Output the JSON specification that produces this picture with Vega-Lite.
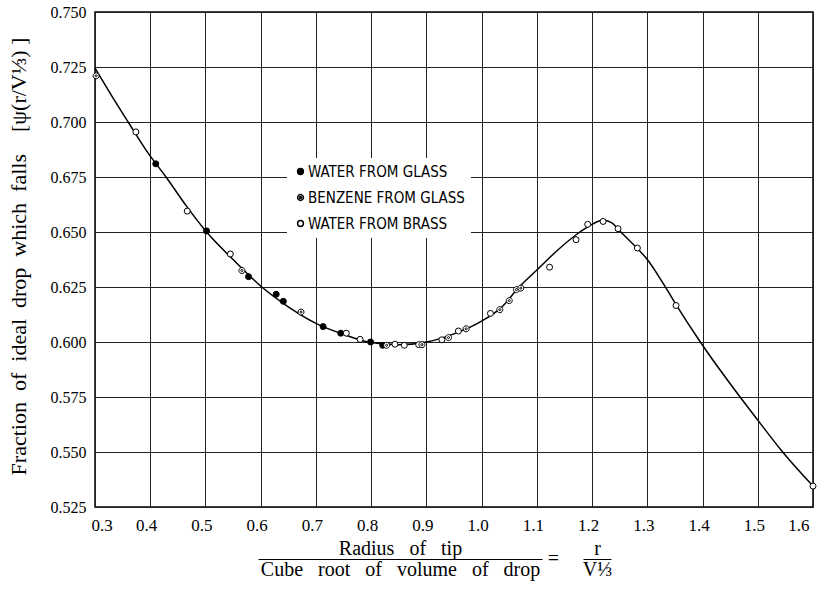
{
  "$schema": "https://vega.github.io/schema/vega-lite/v6.json",
  "width": 718,
  "height": 495,
  "autosize": {"type": "none"},
  "padding": {"left": 95, "top": 12, "right": 15, "bottom": 89},
  "background": "white",
  "config": {
    "view": {"stroke": "black", "strokeWidth": 1.5},
    "font": "Liberation Serif"
  },
  "resolve": {"axis": {"x": "independent", "y": "independent"}},
  "datasets": {
    "curve": [
      {"x": 0.300, "y": 0.7245}, {"x": 0.330, "y": 0.712}, {"x": 0.360, "y": 0.700},
      {"x": 0.393, "y": 0.687}, {"x": 0.4286, "y": 0.675}, {"x": 0.465, "y": 0.662},
      {"x": 0.502, "y": 0.650}, {"x": 0.550, "y": 0.6375}, {"x": 0.602, "y": 0.625},
      {"x": 0.650, "y": 0.616}, {"x": 0.700, "y": 0.6085}, {"x": 0.750, "y": 0.6035},
      {"x": 0.795, "y": 0.600}, {"x": 0.850, "y": 0.5987}, {"x": 0.900, "y": 0.600},
      {"x": 0.950, "y": 0.6037}, {"x": 1.000, "y": 0.6095}, {"x": 1.035, "y": 0.6155},
      {"x": 1.068, "y": 0.625}, {"x": 1.100, "y": 0.6327}, {"x": 1.140, "y": 0.6423},
      {"x": 1.178, "y": 0.650}, {"x": 1.200, "y": 0.6535}, {"x": 1.220, "y": 0.6553},
      {"x": 1.235, "y": 0.6543}, {"x": 1.252, "y": 0.650}, {"x": 1.282, "y": 0.6425},
      {"x": 1.300, "y": 0.6375}, {"x": 1.329, "y": 0.6265}, {"x": 1.352, "y": 0.617},
      {"x": 1.396, "y": 0.600}, {"x": 1.468, "y": 0.575}, {"x": 1.500, "y": 0.5645},
      {"x": 1.545, "y": 0.550}, {"x": 1.600, "y": 0.5345}
    ],
    "points": [
      {"x": 0.302, "y": 0.721, "source": "Benzene from Glass"},
      {"x": 0.374, "y": 0.6955, "source": "Water from Brass"},
      {"x": 0.410, "y": 0.681, "source": "Water from Glass"},
      {"x": 0.467, "y": 0.6595, "source": "Water from Brass"},
      {"x": 0.502, "y": 0.6505, "source": "Water from Glass"},
      {"x": 0.545, "y": 0.640, "source": "Water from Brass"},
      {"x": 0.566, "y": 0.6325, "source": "Benzene from Glass"},
      {"x": 0.578, "y": 0.6297, "source": "Water from Glass"},
      {"x": 0.628, "y": 0.6217, "source": "Water from Glass"},
      {"x": 0.641, "y": 0.6185, "source": "Water from Glass"},
      {"x": 0.673, "y": 0.6136, "source": "Benzene from Glass"},
      {"x": 0.713, "y": 0.607, "source": "Water from Glass"},
      {"x": 0.745, "y": 0.604, "source": "Water from Glass"},
      {"x": 0.755, "y": 0.604, "source": "Water from Brass"},
      {"x": 0.780, "y": 0.6012, "source": "Water from Brass"},
      {"x": 0.799, "y": 0.600, "source": "Water from Glass"},
      {"x": 0.821, "y": 0.5985, "source": "Water from Glass"},
      {"x": 0.828, "y": 0.5985, "source": "Benzene from Glass"},
      {"x": 0.843, "y": 0.599, "source": "Water from Brass"},
      {"x": 0.860, "y": 0.5985, "source": "Water from Brass"},
      {"x": 0.886, "y": 0.5988, "source": "Water from Brass"},
      {"x": 0.892, "y": 0.5988, "source": "Benzene from Glass"},
      {"x": 0.928, "y": 0.601, "source": "Water from Brass"},
      {"x": 0.940, "y": 0.602, "source": "Benzene from Glass"},
      {"x": 0.958, "y": 0.605, "source": "Water from Brass"},
      {"x": 0.972, "y": 0.606, "source": "Benzene from Glass"},
      {"x": 1.016, "y": 0.613, "source": "Water from Brass"},
      {"x": 1.033, "y": 0.6147, "source": "Benzene from Glass"},
      {"x": 1.050, "y": 0.6188, "source": "Benzene from Glass"},
      {"x": 1.063, "y": 0.6238, "source": "Benzene from Glass"},
      {"x": 1.071, "y": 0.6245, "source": "Benzene from Glass"},
      {"x": 1.123, "y": 0.634, "source": "Water from Brass"},
      {"x": 1.171, "y": 0.6465, "source": "Water from Brass"},
      {"x": 1.192, "y": 0.6535, "source": "Water from Brass"},
      {"x": 1.220, "y": 0.6548, "source": "Water from Brass"},
      {"x": 1.247, "y": 0.6515, "source": "Water from Brass"},
      {"x": 1.282, "y": 0.6427, "source": "Water from Brass"},
      {"x": 1.352, "y": 0.6166, "source": "Water from Brass"},
      {"x": 1.600, "y": 0.5345, "source": "Water from Brass"}
    ]
  },
  "layer": [
    {
      "data": {"name": "curve"},
      "mark": {"type": "line", "interpolate": "monotone", "color": "black", "strokeWidth": 1.5},
      "encoding": {
        "x": {
          "field": "x", "type": "quantitative",
          "scale": {"domain": [0.3, 1.6], "nice": false, "zero": false},
          "axis": {
            "values": [0.3, 0.4, 0.5, 0.6, 0.7, 0.8, 0.9, 1.0, 1.1, 1.2, 1.3, 1.4, 1.5, 1.6],
            "format": ".1f",
            "grid": true, "gridColor": "#222", "gridWidth": 1, "gridOpacity": 1,
            "ticks": false, "domain": false,
            "labelFont": "Liberation Serif", "labelFontSize": 17, "labelColor": "black",
            "labelPadding": 10, "labelOffset": -4,
            "title": [
              "Radius\u00a0\u00a0\u00a0of\u00a0\u00a0\u00a0tip",
              "Cube\u00a0\u00a0\u00a0root\u00a0\u00a0\u00a0of\u00a0\u00a0\u00a0volume\u00a0\u00a0\u00a0of\u00a0\u00a0\u00a0drop"
            ],
            "titleFont": "Liberation Serif", "titleFontSize": 20, "titleFontWeight": "normal",
            "titleColor": "black", "titleAlign": "center", "titleBaseline": "alphabetic",
            "titleX": 305, "titleY": 47, "titleLineHeight": 21
          }
        },
        "y": {
          "field": "y", "type": "quantitative",
          "scale": {"domain": [0.525, 0.75], "nice": false, "zero": false},
          "axis": {
            "values": [0.525, 0.55, 0.575, 0.6, 0.625, 0.65, 0.675, 0.7, 0.725, 0.75],
            "format": ".3f",
            "grid": true, "gridColor": "#222", "gridWidth": 1, "gridOpacity": 1,
            "ticks": false, "domain": false,
            "labelFont": "Liberation Serif", "labelFontSize": 16, "labelColor": "black",
            "labelPadding": 9,
            "title": "Fraction\u00a0\u00a0of\u00a0\u00a0ideal\u00a0\u00a0drop\u00a0\u00a0which\u00a0\u00a0falls\u00a0\u00a0\u00a0\u00a0[\u03c8(r/V\u2153) ]",
            "titleFont": "Liberation Serif", "titleFontSize": 22, "titleFontWeight": "normal",
            "titleColor": "black", "titleAngle": -90, "titleBaseline": "middle", "titleAlign": "center",
            "titleX": -77, "titleY": 244
          }
        }
      }
    },
    {
      "data": {"name": "points"},
      "mark": {"type": "point", "filled": true, "stroke": "black", "strokeWidth": 1, "size": 36, "opacity": 1},
      "encoding": {
        "x": {
          "field": "x", "type": "quantitative",
          "axis": {
            "orient": "bottom", "offset": 52,
            "grid": false, "labels": false, "ticks": false,
            "domain": true, "domainColor": "black", "domainWidth": 1.2,
            "domainDash": [0, 163, 284, 41, 28, 1000],
            "title": "=",
            "titleFont": "Liberation Serif", "titleFontSize": 20, "titleFontWeight": "normal",
            "titleColor": "black", "titleAlign": "center", "titleBaseline": "alphabetic",
            "titleX": 458, "titleY": 5
          }
        },
        "y": {
          "field": "y", "type": "quantitative",
          "axis": {
            "orient": "right",
            "grid": false, "labels": false, "ticks": false, "domain": false,
            "title": ["r", "V\u2153"],
            "titleFont": "Liberation Serif", "titleFontSize": 20, "titleFontWeight": "normal",
            "titleColor": "black", "titleAngle": 0, "titleAlign": "center", "titleBaseline": "alphabetic",
            "titleX": -216, "titleY": 542, "titleLineHeight": 21
          }
        },
        "shape": {
          "field": "source", "type": "nominal",
          "scale": {
            "domain": ["Water from Glass", "Benzene from Glass", "Water from Brass"],
            "range": ["circle", "M-1,0A1,1 0 1,0 1,0A1,1 0 1,0 -1,0ZM-0.35,0A0.35,0.35 0 1,0 0.35,0A0.35,0.35 0 1,0 -0.35,0Z", "circle"]
          },
          "legend": {
            "orient": "none", "legendX": 192, "legendY": 146,
            "title": null, "fillColor": "white", "padding": 6,
            "labelFont": "DejaVu Sans Condensed", "labelFontSize": 15, "labelColor": "black",
            "labelExpr": "upper(datum.label)", "labelLimit": 400,
            "symbolSize": 34, "rowPadding": 10, "labelOffset": 0,
            "encode": {"symbols": {"update": {"stroke": {"value": "black"}, "strokeWidth": {"value": 1}}}}
          }
        },
        "fill": {
          "field": "source", "type": "nominal",
          "scale": {
            "domain": ["Water from Glass", "Benzene from Glass", "Water from Brass"],
            "range": ["black", "white", "white"]
          },
          "legend": {
            "orient": "none", "legendX": 192, "legendY": 146,
            "title": null, "fillColor": "white", "padding": 6,
            "labelFont": "DejaVu Sans Condensed", "labelFontSize": 15, "labelColor": "black",
            "labelExpr": "upper(datum.label)", "labelLimit": 400,
            "symbolSize": 34, "rowPadding": 10, "labelOffset": 0,
            "encode": {"symbols": {"update": {"stroke": {"value": "black"}, "strokeWidth": {"value": 1}}}}
          }
        }
      }
    }
  ]
}
